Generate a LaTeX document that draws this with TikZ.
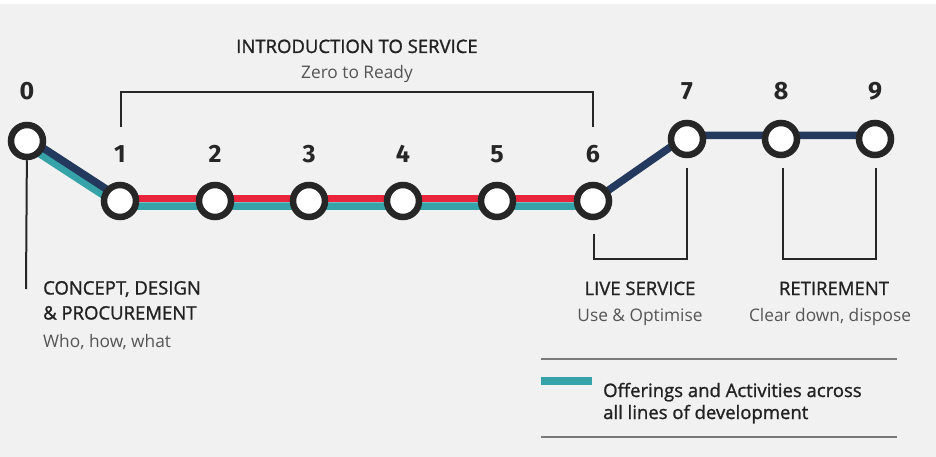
\documentclass[tikz,border=0pt]{standalone}
\usepackage{fontspec}
\setmainfont{Open Sans}
\newfontfamily\digitfont{Fira Sans}
\usetikzlibrary{positioning}
\definecolor{bgGrey}{HTML}{F1F1F1}
\definecolor{ringDark}{HTML}{262626}
\definecolor{lineNavy}{HTML}{233A5E}
\definecolor{lineTeal}{HTML}{35A3A8}
\definecolor{lineRed}{HTML}{E8253A}
\definecolor{textDark}{HTML}{222222}
\definecolor{textSoft}{HTML}{555555}
\definecolor{ruleGrey}{HTML}{7A7A7A}
\pgfdeclarelayer{bg}
\pgfdeclarelayer{lines}
\pgfsetlayers{bg,lines,main}
\tikzset{stationStyle/.style = {shape = circle, minimum size = 32pt, inner sep = 0pt, line width = 6.5pt, draw = ringDark, fill = white}}
\tikzset{stopNumber/.style = {font = \digitfont\bfseries\fontsize{25}{25}\selectfont, text = ringDark, anchor = base, inner sep = 0pt}}
\tikzset{headText/.style = {font = \fontsize{18.5}{18.5}\selectfont\addfontfeature{FakeBold=1.2}, text = textDark, inner sep = 0pt}}
\tikzset{subText/.style = {font = \fontsize{17.3}{17.3}\selectfont, text = textSoft, inner sep = 0pt}}
\tikzset{bracketLine/.style = {draw = ringDark, line width = 2pt}}

\begin{document}
\begin{tikzpicture}[x = 1pt, y = -1pt]
\tikzstyle{trackStyle} = [line width = 7.5pt]
\begin{pgfonlayer}{bg}
\fill[white] (0,0) rectangle (936,457);
\fill[bgGrey] (0,4) rectangle (936,457);
\end{pgfonlayer}
\useasboundingbox (0,0) rectangle (936,457);
% stations
\node[stationStyle] (s0) at (27,141) {};
\node[stationStyle] (s1) at (120,201) {};
\node[stationStyle] (s2) at (215,201) {};
\node[stationStyle] (s3) at (309,201) {};
\node[stationStyle] (s4) at (403,201) {};
\node[stationStyle] (s5) at (497,201) {};
\node[stationStyle] (s6) at (593,201) {};
\node[stationStyle] (s7) at (687,139) {};
\node[stationStyle] (s8) at (781,139) {};
\node[stationStyle] (s9) at (875,139) {};
% tracks
\begin{pgfonlayer}{lines}
\draw[trackStyle, lineTeal] ([yshift=-4.5pt]s0.center) -- ([yshift=-5pt]s1.center) -- ([yshift=-5pt]s6.center);
\draw[trackStyle, lineNavy] ([yshift=3.5pt]s0.center) -- ([yshift=3pt]s1.center);
\draw[trackStyle, lineRed, line width = 7pt] ([yshift=2.5pt]s1.center) -- ([yshift=2.5pt]s6.center);
\draw[trackStyle, lineNavy] (s6.center) -- ([yshift=3.5pt]s7.center) -- ([yshift=3.5pt]s8.center) -- ([yshift=3.5pt]s9.center);
\end{pgfonlayer}
% numbers
\node[stopNumber] (n0) at (27,100) {0};
\node[stopNumber] (n1) at (120,163) {1};
\node[stopNumber] (n2) at (215,163) {2};
\node[stopNumber] (n3) at (309,163) {3};
\node[stopNumber] (n4) at (403,163) {4};
\node[stopNumber] (n5) at (497,163) {5};
\node[stopNumber] (n6) at (593,163) {6};
\node[stopNumber] (n7) at (687,100) {7};
\node[stopNumber] (n8) at (781,100) {8};
\node[stopNumber] (n9) at (875,100) {9};
% brackets
\coordinate (b1) at (121,127);
\coordinate (b6) at (593,127);
\draw[bracketLine] (b1) |- (357,92) -| (b6);
\coordinate (c6) at (594,234);
\coordinate (c7) at (687,168);
\draw[bracketLine] (c6) |- (640,259) -| (c7);
\coordinate (c8) at (783,168);
\coordinate (c9) at (876,168);
\draw[bracketLine] (c8) |- (830,259) -| (c9);
\coordinate (c0) at (26,289);
\draw[bracketLine] (s0) -- (c0);
% phase labels
\node[headText, anchor = base] (introHead) at (357,53) {INTRODUCTION TO SERVICE};
\node[subText, anchor = base] (introSub) at (357,79) {Zero to Ready};
\node[headText, anchor = base west] (conceptHead) at (43,294.5) {CONCEPT, DESIGN};
\node[headText, anchor = base west] (conceptHeadB) at (43,319.5) {\& PROCUREMENT};
\node[subText, anchor = base west] (conceptSub) at (43,347) {Who, how, what};
\node[headText, anchor = base] (liveHead) at (640,295) {LIVE SERVICE};
\node[subText, anchor = base] (liveSub) at (640,321.5) {Use \& Optimise};
\node[headText, anchor = base] (retireHead) at (834,295) {RETIREMENT};
\node[subText, anchor = base] (retireSub) at (830,321.5) {Clear down, dispose};
% legend
\coordinate (lgA) at (541,359);
\coordinate (lgB) at (897,359);
\coordinate (lgC) at (541,437);
\coordinate (lgD) at (897,437);
\draw[ruleGrey, line width = 1.5pt] (lgA) -- (lgB);
\draw[ruleGrey, line width = 1.5pt] (lgC) -- (lgD);
\fill[lineTeal] (541,377) rectangle (592,385);
\node[headText, anchor = base west] (legendA) at (603,397) {Offerings and Activities across};
\node[headText, anchor = base west] (legendB) at (603,419) {all lines of development};
\end{tikzpicture}
\end{document}
